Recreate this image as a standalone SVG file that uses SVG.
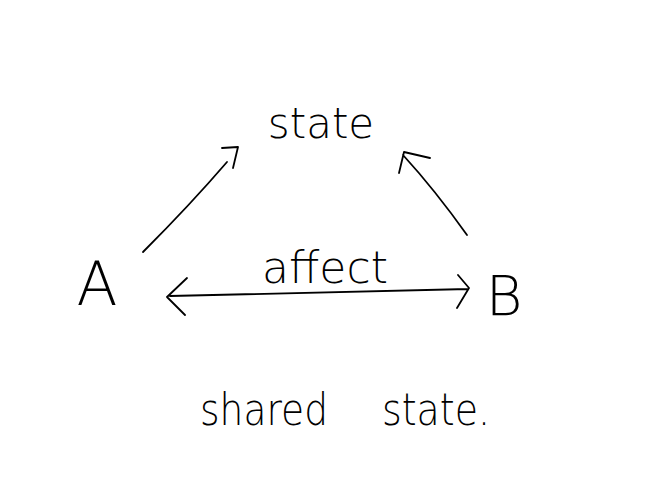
<svg xmlns="http://www.w3.org/2000/svg" width="649" height="483" viewBox="0 0 649 483">
<style>
.t{font-family:"DejaVu Sans","Liberation Sans",sans-serif;font-weight:200;fill:#000}
.s{fill:none;stroke:#000;stroke-width:1.8;stroke-linecap:round;stroke-linejoin:round}
</style>
<rect width="649" height="483" fill="#fff"/>
<g id="state"><text class="t" x="321" y="138" font-size="42" text-anchor="middle">state</text></g>
<g id="A"><text class="t" x="97" y="305" font-size="60" text-anchor="middle">A</text></g>
<g id="B"><text class="t" x="504" y="315" font-size="56" text-anchor="middle">B</text></g>
<g id="connectors">
<path class="s" d="M143,252 Q190,205 227,162 M222,148 L238,147 L233,168"/>
<path class="s" d="M467,235 Q435,190 403,155 M430,158 L404,152 L399,173"/>
<path class="s" d="M170,296 L468,289 M187,278 L167,297 L185,315 M458,275 L469,288 L457,308"/>
<text class="t" x="325" y="283" font-size="44" text-anchor="middle">affect</text>
</g>
<g id="caption"><text class="t" x="200" y="425" font-size="44" textLength="128" lengthAdjust="spacingAndGlyphs">shared</text><text class="t" x="382" y="425" font-size="44" textLength="108" lengthAdjust="spacingAndGlyphs">state.</text></g>
</svg>
